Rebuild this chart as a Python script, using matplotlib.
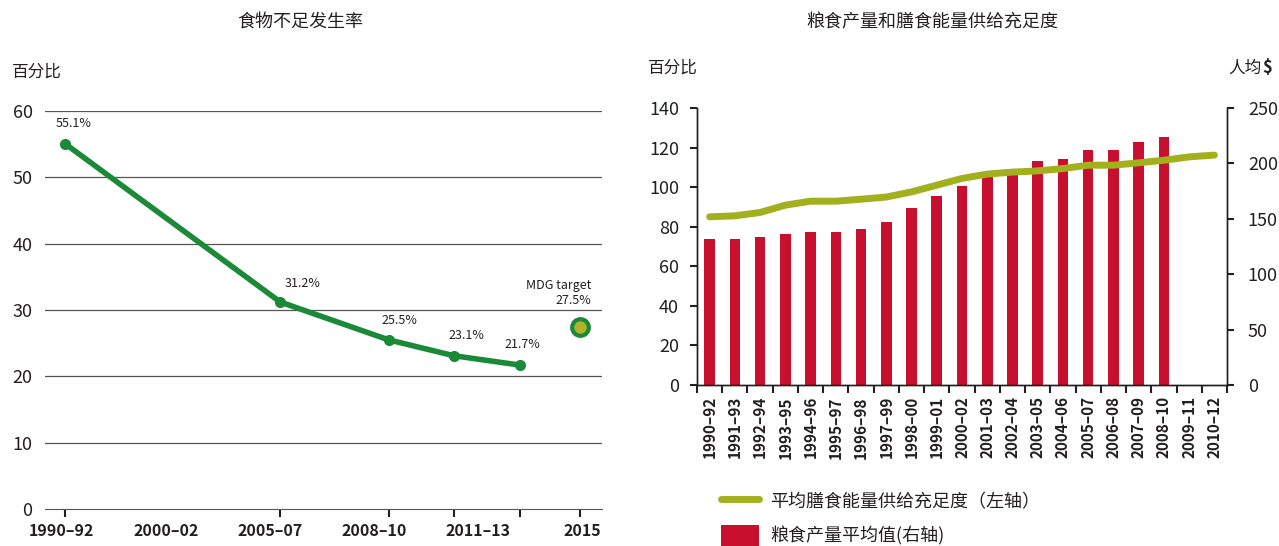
import numpy as np
import matplotlib
matplotlib.use("Agg")
import matplotlib.pyplot as plt
from matplotlib.lines import Line2D
from matplotlib.patches import Patch

plt.rcParams['font.family'] = ['Noto Sans CJK SC', 'DejaVu Sans']

# left chart: prevalence of undernourishment
left_labels = ['1990–92', '2000–02', '2005–07', '2008–10', '2011–13', '2015']
pou_pos = [0.03, 2.1, 3.14, 3.77, 4.4]
pou_vals = [55.1, 31.2, 25.5, 23.1, 21.7]
pou_text = ['55.1%', '31.2%', '25.5%', '23.1%', '21.7%']
target_pos = 4.98
target_val = 27.5

# right chart: food production value and dietary energy supply adequacy
periods = ['1990–92', '1991–93', '1992–94', '1993–95', '1994–96', '1995–97', '1996–98',
           '1997–99', '1998–00', '1999–01', '2000–02', '2001–03', '2002–04', '2003–05',
           '2004–06', '2005–07', '2006–08', '2007–09', '2008–10', '2009–11', '2010–12']
production = [132, 132, 134, 136, 138, 138, 141, 147, 160, 171, 180, 190, 190,
              202, 204, 212, 212, 219, 224]
adequacy = [85.0, 85.5, 87.2, 90.9, 92.9, 92.9, 93.9, 95.0, 97.6, 101.0, 104.4,
            106.6, 107.6, 108.2, 109.4, 111.1, 111.1, 112.3, 113.6, 115.3, 116.2]

dark = '#231f20'
fig = plt.figure(figsize=(12.79, 5.46), dpi=100)

# ---- left panel
ax = fig.add_axes([45/1279, 1-509/546, 557/1279, 398/546])
ax.set_xlim(-0.16, 5.19)
ax.set_ylim(0, 60)
for s in ['top', 'right', 'left']:
    ax.spines[s].set_visible(False)
ax.spines['bottom'].set_color('#555555')
for v in range(10, 61, 10):
    ax.axhline(v, color='#555555', lw=0.9, zorder=1)
ax.set_yticks(range(0, 61, 10))
ax.tick_params(axis='y', length=0, labelsize=13, colors=dark, pad=9)
ax.set_xticks(pou_pos + [target_pos])
ax.set_xticklabels([])
ax.tick_params(axis='x', length=6, width=1.5, color=dark, direction='out')
ax.set_xticks(range(len(left_labels)), minor=True)
ax.set_xticklabels(left_labels, minor=True, fontweight='bold', fontsize=11.5)
ax.tick_params(axis='x', which='minor', length=0, pad=10, colors=dark)

ax.plot(pou_pos, pou_vals, color='#1a8a38', lw=4, marker='o', ms=7, zorder=3,
        solid_capstyle='round')
offs = [(6, 10), (16, 9), (8, 9), (9, 10), (2, 10)]
for x, y, t, o in zip(pou_pos, pou_vals, pou_text, offs):
    ax.annotate(t, (x, y), xytext=o, textcoords='offset points', ha='center',
                va='bottom', fontsize=9, color=dark)
ax.plot([target_pos], [target_val], 'o', ms=12, mfc='#b3b228', mec='#1a8a38',
        mew=3, zorder=4)
ax.annotate('MDG target\n27.5%', (target_pos, target_val), xytext=(8, 14),
            textcoords='offset points', ha='right', va='bottom', fontsize=9,
            color=dark, linespacing=1.25)
fig.text(300/1279, 1-22/546, '食物不足发生率', ha='center', va='center',
         fontsize=13, color=dark)
fig.text(12/1279, 1-72/546, '百分比', ha='left', va='center', fontsize=12,
         color=dark)

# ---- right panel
ax2 = fig.add_axes([697/1279, 1-385/546, 530/1279, 277/546])
axr = ax2.twinx()
x = np.arange(len(periods))
axr.bar(x[:len(production)], production, width=0.42, color='#c8102e', zorder=2)
ax2.set_zorder(axr.get_zorder() + 1)
ax2.patch.set_visible(False)
ax2.plot(x, adequacy, color='#a3b01e', lw=5, solid_capstyle='round', zorder=3)

ax2.set_xlim(-0.5, len(periods) - 0.5)
ax2.set_ylim(0, 140)
axr.set_ylim(0, 250)
for a in (ax2, axr):
    a.spines['top'].set_visible(False)
    for s in ['left', 'right', 'bottom']:
        a.spines[s].set_color(dark)
        a.spines[s].set_linewidth(1.0)
ax2.set_yticks(range(0, 141, 20))
axr.set_yticks(range(0, 251, 50))
ax2.tick_params(axis='y', length=5, width=1.5, colors=dark, labelsize=13, pad=8)
axr.tick_params(axis='y', length=5, width=1.5, colors=dark, labelsize=13, pad=10)
ax2.set_xticks(np.arange(-0.5, len(periods)), minor=False)
ax2.set_xticklabels([])
ax2.tick_params(axis='x', length=6, width=1.5, color=dark)
ax2.set_xticks(x, minor=True)
ax2.set_xticklabels(periods, minor=True, rotation=90, fontweight='bold',
                    fontsize=11, color=dark)
ax2.tick_params(axis='x', which='minor', length=0, pad=8)

fig.text(932/1279, 1-22/546, '粮食产量和膳食能量供给充足度', ha='center',
         va='center', fontsize=13, color=dark)
fig.text(648/1279, 1-68/546, '百分比', ha='left', va='center', fontsize=12,
         color=dark)
fig.text(1228/1279, 1-68/546, '人均', ha='left', va='center', fontsize=12,
         color=dark)
fig.text(1262/1279, 1-68/546, '$', ha='left', va='center', fontsize=12,
         color=dark, fontweight='bold')

handles = [Line2D([0], [0], color='#a3b01e', lw=5, solid_capstyle='round'),
           Patch(facecolor='#c8102e')]
fig.legend(handles, ['平均膳食能量供给充足度（左轴）', '粮食产量平均值(右轴)'],
           loc='upper left', bbox_to_anchor=(714/1279, 1-483/546), frameon=False,
           fontsize=13, handlelength=2.1, handleheight=1.5, labelspacing=0.7,
           handletextpad=0.6, labelcolor=dark, borderaxespad=0)

fig.savefig('out.png', dpi=100)
